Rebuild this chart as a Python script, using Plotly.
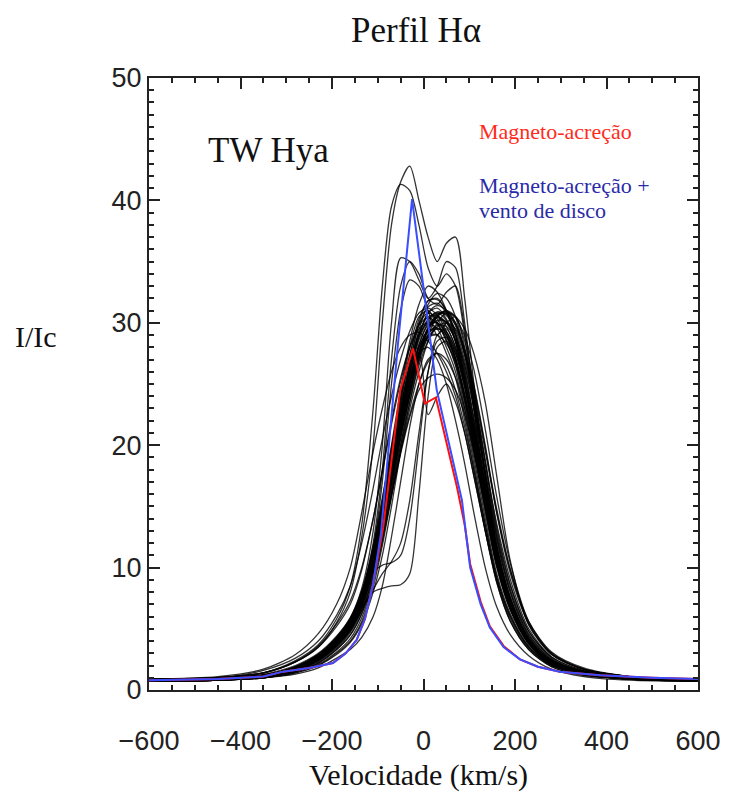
import plotly.graph_objects as go

# Velocity grid (km/s) for the observed profiles
V = [-600, -450, -350, -280, -230, -190, -160, -135, -110, -90, -70, -50, -30, -10,
     10, 30, 50, 70, 90, 110, 135, 160, 190, 230, 280, 350, 450, 600]

B1 = [0.9, 1.0, 1.4, 2.3, 3.5, 5.5, 8.0, 12.5, 20, 30, 38, 41.5, 42.8, 40, 37, 35, 36.5, 37, 32, 25, 17.5, 11.5, 7.2, 4.1, 2.4, 1.5, 1.0, 0.8]
B2 = [0.9, 1.0, 1.4, 2.4, 3.7, 5.8, 8.5, 13.5, 23, 33, 39.5, 41.3, 40.8, 38, 34.5, 33, 34, 33, 29, 23, 16, 11, 7, 4, 2.3, 1.5, 1.0, 0.8]
B3 = [0.8, 0.9, 1.2, 1.9, 2.9, 4.3, 5.9, 8.3, 13, 20, 30, 35.3, 35, 33.5, 32, 33, 35, 34.5, 30, 24, 17, 11.5, 7.2, 4, 2.3, 1.5, 1.0, 0.8]
B4 = [0.8, 0.9, 1.2, 1.9, 2.8, 4.1, 5.6, 7.8, 12, 18, 27, 33, 35, 34, 32, 31.5, 32.5, 33, 29.5, 24, 17.5, 11.8, 7.4, 4.1, 2.3, 1.5, 1.0, 0.8]
B5 = [0.8, 0.9, 1.2, 1.8, 2.7, 4.0, 5.4, 7.5, 11.5, 17, 25, 31, 33.5, 33, 31, 29, 30, 30.5, 28, 23, 16.5, 11, 7, 3.9, 2.2, 1.4, 1.0, 0.8]
C1 = [0.8, 0.9, 1.2, 1.9, 2.9, 4.3, 5.8, 8.0, 11.5, 15, 19, 23, 26.5, 29, 30, 30, 29, 27, 23.5, 19.5, 14.5, 10, 6.5, 3.8, 2.2, 1.4, 1.0, 0.8]
C2 = [0.7, 0.8, 1.1, 1.7, 2.6, 3.9, 5.3, 7.3, 10.5, 14, 18, 22, 25.5, 28, 29.5, 30.5, 30, 28.5, 25, 21, 15.5, 10.8, 7, 4, 2.3, 1.4, 1.0, 0.8]
C3 = [0.8, 0.9, 1.2, 1.9, 2.9, 4.2, 5.6, 7.5, 10.5, 13.5, 17, 21, 24.5, 27, 29, 30.5, 31, 30, 27.5, 24, 18.5, 13, 8.5, 4.8, 2.7, 1.6, 1.1, 0.8]
C4 = [0.7, 0.8, 1.0, 1.5, 2.2, 3.3, 4.5, 6.3, 9.5, 13, 17.5, 21.5, 25, 27.5, 28, 27, 25, 22, 18.5, 14.5, 10, 6.8, 4.5, 2.8, 1.7, 1.1, 0.8, 0.7]
C5 = [0.8, 0.9, 1.2, 1.8, 2.8, 4.1, 5.5, 7.6, 11, 14.5, 18.5, 22.5, 26.5, 30, 31.8, 32, 31, 29, 25.5, 21, 15.5, 10.5, 6.8, 3.9, 2.2, 1.4, 1.0, 0.8]
C6 = [0.8, 0.9, 1.3, 2.0, 3.0, 4.4, 5.9, 8.0, 11, 14, 17.5, 21, 24, 27, 29.5, 30.5, 31, 30.5, 28.5, 25, 20, 14.5, 9.5, 5.4, 3.0, 1.7, 1.1, 0.8]
C7 = [0.9, 1.0, 1.4, 2.3, 3.5, 5.2, 7.0, 9.8, 14, 18, 22, 25.5, 28, 29.5, 30, 29.5, 28, 26, 22.5, 18.5, 13.5, 9.2, 6, 3.5, 2.1, 1.3, 0.9, 0.8]
C8 = [0.7, 0.8, 1.1, 1.6, 2.4, 3.6, 4.9, 6.8, 10, 13.5, 17.5, 21.5, 25, 27.5, 29, 29, 27.5, 25.5, 22, 18, 13, 8.8, 5.6, 3.3, 1.9, 1.2, 0.9, 0.7]
C9 = [0.8, 0.9, 1.2, 1.8, 2.7, 4.0, 5.4, 7.5, 11, 15, 19.5, 24, 28, 30.5, 31, 30, 28.5, 26.5, 23, 19, 14, 9.5, 6.2, 3.6, 2.0, 1.3, 0.9, 0.8]
C10 = [0.7, 0.8, 1.0, 1.5, 2.3, 3.4, 4.7, 6.5, 9.2, 12.5, 16, 19.5, 22.5, 25, 26.8, 27.5, 27, 25.5, 23, 19.5, 15, 10.5, 6.8, 3.9, 2.2, 1.4, 1.0, 0.8]
C11 = [0.8, 0.9, 1.2, 1.8, 2.8, 4.1, 5.6, 7.8, 11.5, 15.5, 20, 24.5, 28.5, 31.5, 33, 32.5, 31, 28.5, 25, 20.5, 15, 10.2, 6.6, 3.8, 2.1, 1.3, 0.9, 0.8]
C12 = [0.8, 0.9, 1.2, 1.8, 2.7, 3.9, 5.2, 7.1, 10, 13, 16.5, 20, 23.5, 26.5, 28.5, 29.7, 30, 29.5, 27.5, 24.5, 19.5, 14.5, 9.8, 5.6, 3.1, 1.8, 1.1, 0.8]
C13 = [0.7, 0.8, 1.1, 1.6, 2.5, 3.7, 5.0, 7.0, 10.5, 14.5, 19, 23.5, 27, 27.5, 22.5, 24, 25, 23.5, 21, 17.5, 13, 8.8, 5.6, 3.3, 1.9, 1.2, 0.9, 0.7]
C14 = [0.8, 0.9, 1.1, 1.7, 2.6, 3.8, 5.1, 7.1, 10.2, 13.8, 17.8, 21.8, 25.3, 28, 29.3, 29.6, 28.8, 27, 24, 20.2, 15.2, 10.5, 6.8, 3.9, 2.2, 1.4, 1.0, 0.8]
C15 = [0.9, 1.1, 1.7, 2.9, 4.6, 7.0, 10, 14.5, 19.5, 23, 26, 28, 29, 29.2, 28.5, 27.5, 26, 24, 21, 17.5, 13, 9, 5.8, 3.4, 2, 1.3, 0.9, 0.8]
C16 = [0.8, 0.9, 1.2, 1.8, 2.7, 3.9, 5.2, 7, 9.8, 12.8, 16, 19.5, 23, 26, 28.5, 30, 30.8, 30.5, 29.5, 27.5, 23.5, 17.5, 10.5, 5.3, 2.9, 1.7, 1.1, 0.8]
C17 = [0.8, 0.9, 1.2, 1.8, 2.7, 4.0, 5.4, 7.4, 10.8, 14.5, 18.5, 22.5, 26, 28.8, 30.3, 30.8, 30.2, 28.5, 25.5, 21.5, 16, 11, 7, 4, 2.2, 1.4, 1.0, 0.8]
C18 = [0.8, 0.9, 1.1, 1.7, 2.5, 3.7, 5.0, 6.9, 10, 13.5, 17.3, 21.3, 25, 27.8, 29.2, 29.5, 29, 27.5, 24.8, 21, 15.8, 11, 7.1, 4, 2.2, 1.4, 1.0, 0.8]
C19 = [0.8, 0.9, 1.2, 1.9, 2.8, 4.2, 5.7, 7.9, 11.3, 15, 19, 23, 26.5, 29.2, 30.5, 30.6, 29.7, 28, 25.2, 21.6, 16.5, 11.5, 7.4, 4.2, 2.3, 1.4, 1.0, 0.8]
C20 = [0.7, 0.8, 1.1, 1.6, 2.4, 3.5, 4.8, 6.6, 9.6, 13, 16.8, 20.6, 24.3, 27.3, 29, 29.8, 29.7, 28.7, 26.5, 23, 17.8, 12.5, 8, 4.5, 2.5, 1.5, 1.0, 0.8]
C21 = [0.8, 0.9, 1.2, 1.8, 2.7, 4.0, 5.4, 7.5, 10.9, 14.6, 18.7, 22.9, 26.8, 29.8, 31.3, 31.6, 30.8, 29, 26, 22, 16.6, 11.4, 7.3, 4.1, 2.3, 1.4, 1.0, 0.8]
C22 = [0.8, 0.9, 1.2, 1.7, 2.6, 3.8, 5.1, 7.0, 10.1, 13.4, 17, 20.8, 24.4, 27.5, 29.6, 30.7, 30.8, 30, 27.8, 24.3, 18.8, 13.3, 8.6, 4.8, 2.6, 1.5, 1.0, 0.8]
C23 = [0.7, 0.8, 1.1, 1.6, 2.4, 3.6, 4.9, 6.8, 9.9, 13.3, 17.1, 21, 24.6, 27.4, 28.8, 29, 28.3, 26.8, 24, 20.4, 15.4, 10.6, 6.8, 3.9, 2.2, 1.4, 1.0, 0.8]
C24 = [0.8, 0.9, 1.2, 1.8, 2.7, 3.9, 5.3, 7.3, 10.6, 14.2, 18.2, 22.3, 26.2, 29.4, 31.5, 32.4, 32, 30.5, 27.5, 23.3, 17.5, 12, 7.6, 4.3, 2.4, 1.5, 1.0, 0.8]
C25 = [0.8, 0.9, 1.2, 1.9, 2.9, 4.3, 5.8, 8.1, 11.8, 15.7, 19.8, 23.8, 27.4, 29.9, 30.8, 30.3, 29, 27, 24, 20.2, 15.2, 10.4, 6.7, 3.8, 2.1, 1.3, 0.9, 0.8]
C26 = [0.8, 0.9, 1.1, 1.7, 2.6, 3.8, 5.2, 7.2, 10.4, 14, 17.9, 22, 25.7, 28.6, 30.2, 30.9, 30.6, 29.4, 26.9, 23.4, 18, 12.7, 8.2, 4.6, 2.5, 1.5, 1.0, 0.8]
C27 = [0.7, 0.8, 1.0, 1.5, 2.2, 3.3, 4.5, 6.2, 9, 12.2, 15.8, 19.3, 22.3, 24.5, 25.5, 25.8, 25.5, 24.5, 22.5, 19.5, 15, 10.5, 6.8, 3.9, 2.2, 1.4, 1.0, 0.8]
C28 = [0.8, 0.9, 1.2, 1.8, 2.8, 4.1, 5.6, 7.7, 11.2, 15, 19.2, 23.4, 27.3, 30.3, 31.8, 31.9, 31, 29.2, 26.2, 22.3, 16.8, 11.7, 7.5, 4.2, 2.3, 1.4, 1.0, 0.8]
N1 = [0.7, 0.8, 1.0, 1.4, 2.0, 2.9, 3.9, 5.4, 8, 11, 15, 19.5, 23.5, 26.8, 28.8, 29.5, 29.2, 27.8, 25, 21.2, 16, 11, 7, 4, 2.2, 1.4, 1.0, 0.8]
N2 = [0.7, 0.8, 1.0, 1.5, 2.1, 3.1, 4.2, 5.9, 8.8, 12.2, 16.3, 20.5, 24.4, 27.6, 29.6, 30.4, 30, 28.6, 25.8, 22, 16.6, 11.5, 7.3, 4.1, 2.3, 1.4, 1.0, 0.8]
N3 = [0.7, 0.8, 1.0, 1.4, 2.0, 3.0, 4.0, 5.6, 8.4, 11.8, 15.8, 20, 24, 27.3, 29.4, 30.2, 30.1, 29, 26.6, 23, 17.6, 12.3, 7.9, 4.4, 2.4, 1.5, 1.0, 0.8]
W1 = [0.9, 1.0, 1.6, 2.6, 4.0, 6.1, 8.5, 12, 16.5, 20.5, 24, 27, 29.3, 30.8, 31.2, 30.6, 29.3, 27.2, 24, 20, 15, 10.3, 6.6, 3.8, 2.1, 1.3, 0.9, 0.8]
W2 = [0.9, 1.0, 1.4, 2.3, 3.6, 5.4, 7.3, 10, 14, 17.8, 21.7, 25.2, 28, 29.8, 30.4, 29.9, 28.6, 26.6, 23.6, 19.8, 14.8, 10.2, 6.6, 3.8, 2.1, 1.3, 0.9, 0.8]
R1 = [0.8, 0.9, 1.2, 1.8, 2.7, 3.9, 5.3, 7.3, 10.5, 14, 17.8, 21.6, 25.2, 28.2, 30, 30.8, 30.7, 29.8, 27.8, 24.8, 19.8, 14.8, 9.8, 5.4, 2.9, 1.7, 1.1, 0.8]
R2 = [0.8, 0.9, 1.2, 1.8, 2.6, 3.8, 5.1, 7.0, 10, 13.3, 17, 20.8, 24.4, 27.4, 29.5, 30.6, 30.9, 30.4, 28.9, 26.2, 21.3, 15.8, 10.3, 5.6, 3.0, 1.7, 1.1, 0.8]
R3 = [0.8, 0.9, 1.2, 1.8, 2.7, 4.0, 5.4, 7.4, 10.7, 14.3, 18.3, 22.3, 26, 29, 30.8, 31.4, 31, 29.8, 27.3, 23.8, 18.6, 13.6, 9, 5, 2.7, 1.6, 1.0, 0.8]
M1 = [0.8, 0.9, 1.2, 1.7, 2.6, 3.8, 5.1, 7.1, 10.3, 13.9, 17.8, 21.9, 25.8, 28.9, 30.8, 31.2, 30.3, 28.4, 25.3, 21.4, 16.2, 11.3, 7.2, 4.1, 2.3, 1.4, 1.0, 0.8]
M2 = [0.8, 0.9, 1.1, 1.7, 2.5, 3.7, 5.0, 6.9, 10, 13.6, 17.5, 21.5, 25.2, 28.2, 29.8, 30, 29.3, 27.7, 25, 21.4, 16.4, 11.5, 7.4, 4.2, 2.3, 1.4, 1.0, 0.8]
D1 = [0.8, 0.9, 1.2, 1.8, 2.7, 4.0, 5.3, 6.8, 8.0, 8.3, 8.5, 8.6, 9.5, 16, 24, 28, 28.5, 27, 24, 20, 15, 10.5, 6.8, 3.9, 2.2, 1.4, 1.0, 0.8]
D2 = [0.8, 0.9, 1.2, 1.8, 2.7, 4.0, 5.5, 7.5, 9.6, 10.2, 10.4, 11, 14, 20, 26, 29, 29.5, 28, 25, 21, 15.8, 11, 7, 4, 2.2, 1.4, 1.0, 0.8]
D3 = [0.7, 0.8, 1.0, 1.3, 1.8, 2.6, 3.3, 4.3, 6, 8.5, 12.5, 17, 21.5, 25, 27, 27.5, 26.5, 24.5, 21.5, 18, 13.5, 9.2, 6, 3.5, 2, 1.3, 0.9, 0.7]
D4 = [0.8, 0.9, 1.2, 1.8, 2.6, 3.8, 5.0, 6.5, 8.2, 9.5, 10.5, 12, 15.5, 21, 26, 28.5, 28.8, 27.5, 24.5, 20.5, 15.5, 10.8, 7, 4, 2.2, 1.4, 1.0, 0.8]

OBSERVED = [B1, B2, B3, B4, B5, C1, C2, C3, C4, C5, C6, C7, C8, C9, C10,
            C11, C12, C13, C14, C15, C16, C17, C18, C19, C20, C21, C22,
            C23, C24, C25, C26, C27, C28, N1, N2, N3, W1, W2, R1, R2, R3,
            M1, M2, D1, D2, D3, D4]

# Model: magneto-accretion + disc wind (blue)
V_BLUE = [-600, -450, -350, -307, -250, -198, -170, -146, -128, -110, -93, -56, -25,
          14, 29, 54, 84, 102, 125, 145, 175, 211, 250, 298, 386, 500, 600]
I_BLUE = [0.8, 0.9, 1.1, 1.5, 1.8, 2.2, 3.0, 4.1, 5.8, 8.7, 12.8, 28.2, 40.1,
          28.6, 24.5, 20.4, 15.5, 10.0, 7.0, 5.1, 3.5, 2.5, 1.9, 1.5, 1.2, 1.0, 0.9]

# Model: magneto-accretion only (red)
V_RED = [-600, -450, -350, -307, -250, -198, -170, -146, -128, -110, -88, -84, -51, -23,
         3, 27, 73, 90, 102, 125, 145, 175, 211, 250, 298, 386, 500, 600]
I_RED = [0.8, 0.9, 1.1, 1.5, 1.8, 2.2, 3.0, 4.1, 5.8, 8.7, 13.3, 14.5, 24.5, 27.9,
         23.4, 23.9, 16.6, 13.5, 10.3, 7.2, 5.2, 3.6, 2.5, 1.9, 1.5, 1.2, 1.0, 0.9]

X_TICKS = [-600, -400, -200, 0, 200, 400, 600]
X_LABELS = ["\u2212600", "\u2212400", "\u2212200", "0", "200", "400", "600"]
Y_TICKS = [0, 10, 20, 30, 40, 50]

SERIF = "Liberation Serif, Times New Roman, serif"
SANS = "Liberation Sans, Arial, sans-serif"

fig = go.Figure()
for prof in OBSERVED:
    fig.add_trace(go.Scatter(x=V, y=prof, mode="lines",
                             line=dict(color="rgba(0,0,0,0.8)", width=1.3, shape="spline", smoothing=0.8),
                             showlegend=False, hoverinfo="skip"))
fig.add_trace(go.Scatter(x=V_RED, y=I_RED, mode="lines",
                         line=dict(color="#ff1010", width=2), showlegend=False))
fig.add_trace(go.Scatter(x=V_BLUE, y=I_BLUE, mode="lines",
                         line=dict(color="#3a4dff", width=2), showlegend=False))

axis_common = dict(
    showline=True, linecolor="#222", linewidth=2, mirror="allticks",
    ticks="inside", tickcolor="#222", tickwidth=1.5, ticklen=11,
    showgrid=False, zeroline=False, automargin=False,
    tickfont=dict(family=SANS, size=27, color="#222"),
)
fig.update_xaxes(range=[-600, 600], tickvals=X_TICKS, ticktext=X_LABELS,
                 minor=dict(dtick=50, ticks="inside", ticklen=5, tickcolor="#222", tickwidth=1.5),
                 ticklabelstandoff=26, **axis_common)
fig.update_yaxes(range=[0, 50], tickvals=Y_TICKS,
                 minor=dict(dtick=1, ticks="inside", ticklen=5, tickcolor="#222", tickwidth=1.5),
                 ticklabelstandoff=0, **axis_common)

def note(text, x, y, size, color="#111", xanchor="center"):
    return dict(text=text, x=x, y=y, xref="paper", yref="paper", xanchor=xanchor,
                yanchor="middle", showarrow=False,
                font=dict(family=SERIF, size=size, color=color))

annotations = [
    note("Perfil H\u03b1", 0.486, 1.078, 35),
    note("Velocidade (km/s)", 0.49, -0.139, 30),
    note("I/Ic", -0.206, 0.578, 30),
    note("TW Hya", 0.104, 0.882, 35, xanchor="left"),
    note("Magneto-acreção", 0.597, 0.912, 22, "#ff2a1a", "left"),
    note("Magneto-acreção +", 0.597, 0.825, 22, "#2a2aa8", "left"),
    note("vento de disco", 0.597, 0.784, 22, "#2a2aa8", "left"),
]

# The page body has an 8 px margin, so the figure is offset by 8 px in the window
fig.update_layout(
    width=721, height=786,
    margin=dict(l=141, r=31, t=70, b=104),
    paper_bgcolor="white", plot_bgcolor="white",
    annotations=annotations,
)

fig.write_html("out.html")
